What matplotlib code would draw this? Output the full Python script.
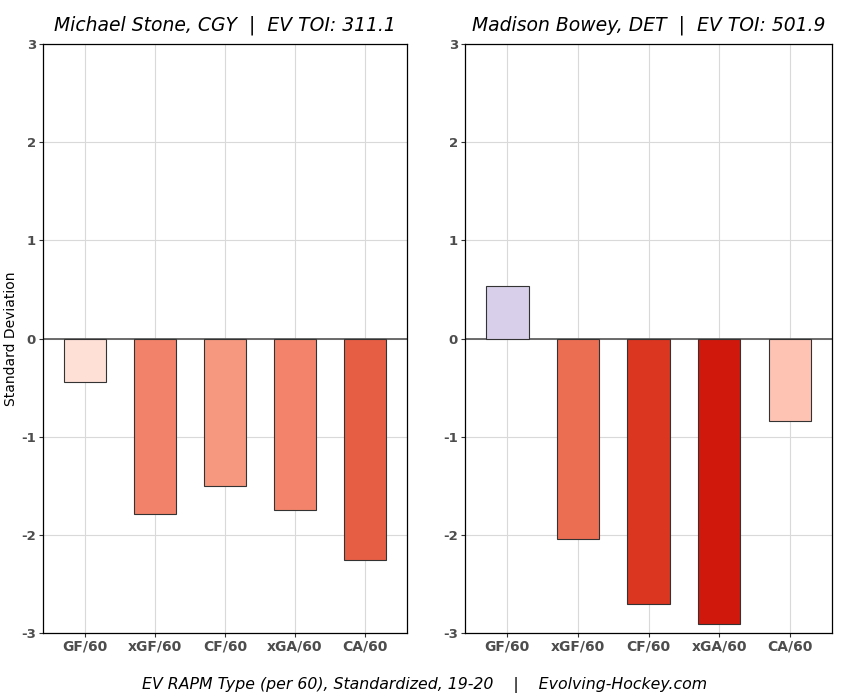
import matplotlib
matplotlib.use('Agg')
import matplotlib.pyplot as plt

plt.rcParams['axes.unicode_minus'] = False

# RAPM categories and standardized values
categories = ['GF/60', 'xGF/60', 'CF/60', 'xGA/60', 'CA/60']

stone_title = 'Michael Stone, CGY  |  EV TOI: 311.1'
stone_vals = [-0.44, -1.79, -1.50, -1.75, -2.26]
stone_colors = ['#fee0d6', '#f3826a', '#f6987f', '#f3846b', '#e65e43']

bowey_title = 'Madison Bowey, DET  |  EV TOI: 501.9'
bowey_vals = [0.54, -2.04, -2.70, -2.91, -0.84]
bowey_colors = ['#d8cfea', '#ec6e52', '#da3620', '#d0190c', '#fec3b3']

yticks = [-3, -2, -1, 0, 1, 2, 3]


def plot_player(ax, title, vals, colors):
    x = list(range(len(categories)))
    ax.set_axisbelow(True)
    ax.grid(True, color='#d9d9d9', linewidth=0.8)
    ax.axhline(0, color='#555555', linewidth=1.2, zorder=2)
    ax.bar(x, vals, width=0.6, color=colors, edgecolor='#333333',
           linewidth=0.8, zorder=3)
    ax.set_xlim(-0.6, 4.6)
    ax.set_ylim(-3, 3)
    ax.set_xticks(x)
    ax.set_xticklabels(categories, fontsize=10, fontweight='bold', color='#4d4d4d')
    ax.set_yticks(yticks)
    ax.set_yticklabels([str(t) for t in yticks], fontsize=9.5,
                       fontweight='bold', color='#4d4d4d')
    ax.tick_params(length=3, color='#333333', pad=2)
    ax.set_title(title, fontsize=13.5, style='italic', pad=10)
    for s in ax.spines.values():
        s.set_color('black')
        s.set_linewidth(0.9)


fig = plt.figure(figsize=(8.5, 7), dpi=100)
ax1 = fig.add_axes([0.0506, 0.0957, 0.4282, 0.8414])
ax2 = fig.add_axes([0.547, 0.0957, 0.432, 0.8414])

plot_player(ax1, stone_title, stone_vals, stone_colors)
plot_player(ax2, bowey_title, bowey_vals, bowey_colors)

ax1.set_ylabel('Standard Deviation', fontsize=10, labelpad=2)

fig.text(0.5, 0.016, 'EV RAPM Type (per 60), Standardized, 19-20    |    Evolving-Hockey.com',
         ha='center', fontsize=11.3, style='italic')

fig.savefig('out.png', dpi=100)
